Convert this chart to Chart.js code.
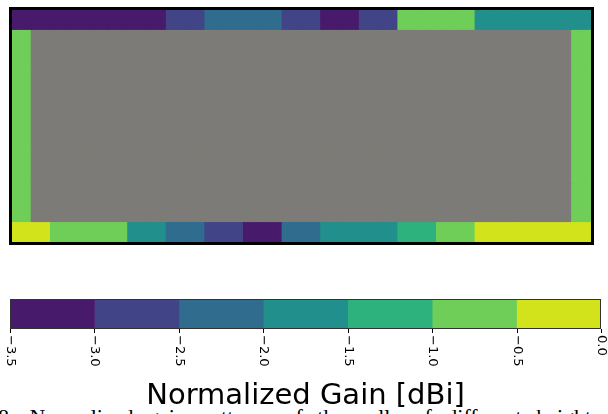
<!DOCTYPE html>
<html>
<head>
<meta charset="utf-8">
<script src="https://cdn.jsdelivr.net/npm/chart.js@4"></script>
<style>
html,body{margin:0;padding:0;background:#fff;width:608px;height:414px;overflow:hidden;}
body{position:relative;}
#main{position:absolute;left:0;top:0;}
#cbar{position:absolute;left:0;top:290px;}
#title{position:absolute;left:0;width:611px;top:380px;text-align:center;font-family:"DejaVu Sans";font-size:29px;line-height:29px;color:#000;white-space:nowrap;}
#caption{position:absolute;left:-2px;top:406px;font-family:"Liberation Serif";font-size:22px;line-height:22px;word-spacing:9px;color:#000;white-space:nowrap;}
</style>
</head>
<body>
<canvas id="main" width="608" height="260"></canvas>
<canvas id="cbar" width="608" height="90"></canvas>
<div id="caption">8: Normalized gain patterns of the cells of different heights in the validi</div>
<div id="title">Normalized Gain [dBi]</div>
<script>
// ---- data (values in dBi) ----
const topRow    = [-3.2,-3.2,-3.2,-3.2,-2.8,-2.3,-2.3,-2.8,-3.2,-2.8,-0.8,-0.8,-1.7,-1.7,-1.7];
const bottomRow = [-0.3,-0.8,-0.8,-1.7,-2.3,-2.8,-3.2,-2.3,-1.7,-1.7,-1.3,-0.8,-0.3,-0.3,-0.3];
const leftCol   = [-0.8,-0.8,-0.8,-0.8,-0.8];   // top to bottom
const rightCol  = [-0.8,-0.8,-0.8,-0.8,-0.8];   // top to bottom
const colorbarTicks = [-3.5,-3.0,-2.5,-2.0,-1.5,-1.0,-0.5,0.0];
const binColors = ['#481a6c','#414487','#2f6c8e','#21908c','#2db27d','#6ece58','#d2e21b'];
const interiorColor = '#7d7b77';

function colorFor(v){
  for(let i=0;i<binColors.length;i++){
    if(v>=colorbarTicks[i] && v<colorbarTicks[i+1]) return binColors[i];
  }
  return v<colorbarTicks[0]?binColors[0]:binColors[binColors.length-1];
}

// ---- main map: 30 half-columns, rows 0 (bottom strip) .. 6 (top strip) ----
const nCols = topRow.length;
const halfCols = nCols*2;
const labels = Array.from({length:halfCols},(_,i)=>String(i));
const nMid = leftCol.length;
const datasets = [];
for(let r=0;r<=nMid+1;r++){
  const lo = r===0?0:r-0.5;
  const hi = r===nMid+1?nMid+1:(r===0?0.5:r+0.5);
  const data=[], colors=[];
  for(let c=0;c<halfCols;c++){
    data.push([lo,hi]);
    let col;
    if(r===0) col=colorFor(bottomRow[Math.floor(c/2)]);
    else if(r===nMid+1) col=colorFor(topRow[Math.floor(c/2)]);
    else if(c===0) col=colorFor(leftCol[nMid-r]);
    else if(c===halfCols-1) col=colorFor(rightCol[nMid-r]);
    else col=interiorColor;
    colors.push(col);
  }
  datasets.push({data,backgroundColor:colors,borderWidth:0,grouped:false,categoryPercentage:1,barPercentage:1,inflateAmount:0.6,order:(r===0||r===nMid+1)?0:1});
}

const framePlugin = {
  id:'frame',
  afterDraw(chart){
    const a=chart.chartArea, ctx=chart.ctx;
    ctx.save();
    ctx.strokeStyle='#000';
    ctx.lineWidth=3;
    ctx.strokeRect(a.left-1.5,a.top-1.5,a.right-a.left+3,a.bottom-a.top+3);
    ctx.restore();
  }
};

new Chart(document.getElementById('main'),{
  type:'bar',
  data:{labels,datasets},
  options:{
    responsive:false,animation:false,devicePixelRatio:1,
    layout:{padding:{left:12,right:17,top:10,bottom:18}},
    plugins:{legend:{display:false},tooltip:{enabled:false}},
    scales:{
      x:{display:false,offset:true},
      y:{display:false,min:0,max:nMid+1}
    }
  },
  plugins:[framePlugin]
});

// ---- colour bar ----
const cbDatasets = binColors.map((c,i)=>({
  data:[[colorbarTicks[i],colorbarTicks[i+1]]],
  backgroundColor:c,borderWidth:0,grouped:false,categoryPercentage:1,barPercentage:1
}));

const cbPlugin = {
  id:'cbticks',
  afterDraw(chart){
    const a=chart.chartArea, ctx=chart.ctx, sx=chart.scales.x;
    ctx.save();
    ctx.strokeStyle='#333';
    ctx.lineWidth=1;
    ctx.strokeRect(a.left+0.5,a.top+0.5,a.right-a.left-1,a.bottom-a.top-1);
    ctx.strokeStyle='#000';
    ctx.fillStyle='#000';
    ctx.font='13px "DejaVu Sans"';
    ctx.textAlign='left';
    ctx.textBaseline='middle';
    colorbarTicks.forEach(v=>{
      const x=Math.round(sx.getPixelForValue(v))+0.5;
      ctx.beginPath();
      ctx.moveTo(x,a.bottom);
      ctx.lineTo(x,a.bottom+4);
      ctx.stroke();
      const lbl=(v<0?'\u2212':'')+Math.abs(v).toFixed(1);
      ctx.save();
      ctx.translate(x,a.bottom+6);
      ctx.rotate(Math.PI/2);
      ctx.fillText(lbl,0,0);
      ctx.restore();
    });
    ctx.restore();
  }
};

new Chart(document.getElementById('cbar'),{
  type:'bar',
  data:{labels:['cb'],datasets:cbDatasets},
  options:{
    indexAxis:'y',
    responsive:false,animation:false,devicePixelRatio:1,
    layout:{padding:{left:10,right:7,top:9,bottom:51}},
    plugins:{legend:{display:false},tooltip:{enabled:false}},
    scales:{
      x:{display:false,min:colorbarTicks[0],max:colorbarTicks[colorbarTicks.length-1]},
      y:{display:false,offset:true}
    }
  },
  plugins:[cbPlugin]
});
</script>
</body>
</html>
